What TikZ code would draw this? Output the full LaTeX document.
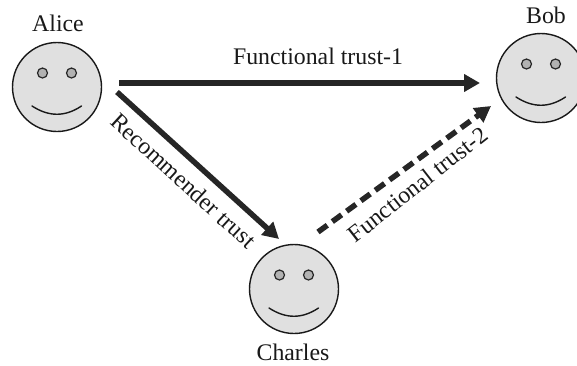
\documentclass[tikz,border=0pt]{standalone}
\usepackage{fontspec}
\setmainfont{Liberation Serif}
\usetikzlibrary{arrows.meta}
\tikzset{
  x=1pt,y=-1pt,
  face/.style={circle,draw=black!90,line width=1.4pt,fill=black!12,minimum size=89pt,inner sep=0pt},
  eye/.style={circle,draw=black!85,line width=1.2pt,fill=black!30,minimum size=10pt,inner sep=0pt},
  mouth/.style={draw=black!90,line width=1.4pt,line cap=round},
  label/.style={font=\fontsize{23.8}{26}\selectfont,text=black!90,inner sep=0pt},
  trust/.style={draw=black!85,line width=5.5pt,-{Triangle[length=16pt,width=17pt]}},
  dashtrust/.style={trust,dash pattern=on 11.5pt off 6.2pt},
}
\newcommand{\smiley}[2]{%
  \node[face] (#1) at (#2) {};
  \node[eye] (#1eyeL) at ([shift={(-14.5,-14)}]#1.center) {};
  \node[eye] (#1eyeR) at ([shift={(14.5,-14)}]#1.center) {};
  \draw[mouth] ([shift={(-25,19)}]#1.center) .. controls ([shift={(-8,30)}]#1.center) and ([shift={(8,30)}]#1.center) .. ([shift={(24.5,19)}]#1.center);
}
\begin{document}
\begin{tikzpicture}
\useasboundingbox (0,0) rectangle (577,365);
\smiley{alice}{57,87}
\smiley{bob}{541,78}
\smiley{charles}{294,289}
\node[label] (alicet) at (58,23) {Alice};
\node[label] (bobt) at (546,15) {Bob};
\node[label] (charlest) at (293,352) {Charles};
\coordinate (a1) at (119,83);
\coordinate (b1) at (480,83);
\coordinate (a2) at (117,92);
\coordinate (c2) at (279,239);
\coordinate (c3) at (318,232);
\coordinate (b3) at (491,106);
\draw[trust] (a1) -- (b1);
\draw[trust] (a2) -- (c2);
\draw[dashtrust] (c3) -- (b3);
\node[label] (ft1) at (318,56) {Functional trust-1};
\node[label,rotate=-42.5] (rt) at (183.5,180.5) {Recommender trust};
\node[label,rotate=38] (ft2) at (417.5,184.5) {Functional trust-2};
\end{tikzpicture}
\end{document}
